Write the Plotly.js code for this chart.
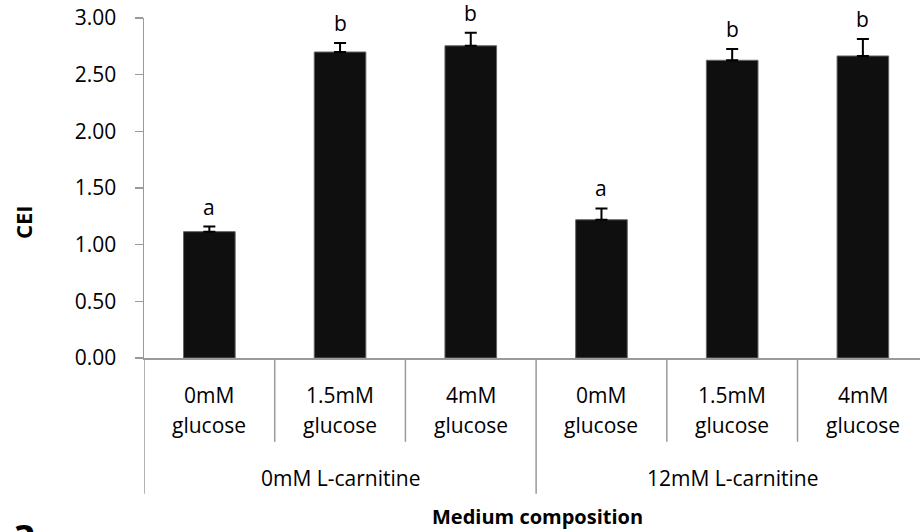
<!DOCTYPE html>
<html>
<head>
<meta charset="utf-8">
<script src="https://cdn.plot.ly/plotly-3.0.1.min.js"></script>
<style>html,body{margin:0;padding:0;background:#fff;}#chart{width:920px;height:532px;}</style>
</head>
<body>
<div id="chart"></div>
<script>
// ---- data ----
const glucoseLevels = ['0mM', '1.5mM', '4mM', '0mM', '1.5mM', '4mM'];
const glucoseWord = 'glucose';
const carnitineGroups = ['0mM L-carnitine', '12mM L-carnitine'];
const groupSize = 3;
const cei = [1.115, 2.70, 2.755, 1.22, 2.627, 2.665];
const ceiErr = [0.045, 0.08, 0.115, 0.10, 0.10, 0.15];
const sigLetters = ['a', 'b', 'b', 'a', 'b', 'b'];
const yTicks = [0, 0.5, 1, 1.5, 2, 2.5, 3];

const FONT = 'Open Sans, Noto Sans, sans-serif';
const idx = cei.map((_, i) => i);
const plotH = 532 - 17.5 - 173.7;
const plotW = 920 - 144;
const px2paper = p => -p / plotH;
const pxX = p => (p - 144) / plotW;

const annotations = [];
// significance letters
idx.forEach(i => annotations.push({
  x: i, y: cei[i] + ceiErr[i], xref: 'x', yref: 'y', text: sigLetters[i],
  showarrow: false, yanchor: 'bottom', yshift: 4,
  font: {family: FONT, size: 21, color: '#000'}
}));
// inner category labels
idx.forEach(i => {
  annotations.push({x: i, y: px2paper(53), xref: 'x', yref: 'paper', text: glucoseLevels[i],
    showarrow: false, yanchor: 'bottom', font: {family: FONT, size: 21, color: '#000'}});
  annotations.push({x: i, y: px2paper(53), xref: 'x', yref: 'paper', text: glucoseWord,
    showarrow: false, yanchor: 'top', yshift: 2, font: {family: FONT, size: 21, color: '#000'}});
});
// outer group labels
carnitineGroups.forEach((g, k) => annotations.push({
  x: k * groupSize + (groupSize - 1) / 2, y: px2paper(120), xref: 'x', yref: 'paper', text: g,
  showarrow: false, yanchor: 'middle', font: {family: FONT, size: 21, color: '#000'}
}));
// axis titles
annotations.push({x: pxX(537), y: px2paper(159), xref: 'paper', yref: 'paper', text: '<b>Medium composition</b>',
  showarrow: false, yanchor: 'middle', xanchor: 'center', font: {family: FONT, size: 20, color: '#000'}});
annotations.push({x: pxX(23), y: (358.3 - 222) / plotH, xref: 'paper', yref: 'paper', text: '<b>CEI</b>',
  showarrow: false, textangle: -90, xanchor: 'center', yanchor: 'middle',
  font: {family: FONT, size: 22, color: '#000'}});
// panel letter (cut off at bottom edge, as in the reference)
annotations.push({x: pxX(10), y: px2paper(144), xref: 'paper', yref: 'paper', text: '<b>a</b>',
  showarrow: false, xanchor: 'left', yanchor: 'top', font: {family: FONT, size: 40, color: '#000'}});

// separators
const shapes = [];
const sepColor = '#9a9a9a';
for (let b = 0; b <= cei.length; b++) {
  const outer = b % groupSize === 0;
  shapes.push({type: 'line', xref: 'x', yref: 'paper', x0: b - 0.5, x1: b - 0.5,
    y0: 0, y1: px2paper(outer ? 136 : 84), line: {color: sepColor, width: 1.5}});
}

const trace = {
  type: 'bar', x: idx, y: cei, width: 0.395,
  marker: {color: '#0f0f0f', line: {color: '#666', width: 1}},
  error_y: {type: 'data', symmetric: false, array: ceiErr, arrayminus: cei.map(() => 0),
    color: '#000', thickness: 2, width: 6},
  hoverinfo: 'none'
};

const layout = {
  width: 920, height: 532,
  margin: {l: 144, r: 0, t: 17.5, b: 173.7, pad: 0},
  paper_bgcolor: '#fff', plot_bgcolor: '#fff',
  showlegend: false,
  xaxis: {range: [-0.5, 5.437], showticklabels: false, ticks: '', showgrid: false, zeroline: false,
    showline: true, linecolor: sepColor, linewidth: 1.5, fixedrange: true},
  yaxis: {range: [0, 3], tickvals: yTicks, tickformat: '.2f', ticks: 'outside', ticklen: 8,
    tickcolor: sepColor, tickwidth: 1.5, showline: true, linecolor: sepColor, linewidth: 1.5,
    showgrid: false, zeroline: false, ticklabelstandoff: 14,
    tickfont: {family: FONT, size: 21, color: '#000'}, fixedrange: true},
  annotations: annotations,
  shapes: shapes
};

Plotly.newPlot('chart', [trace], layout, {displayModeBar: false, staticPlot: true});
</script>
</body>
</html>
